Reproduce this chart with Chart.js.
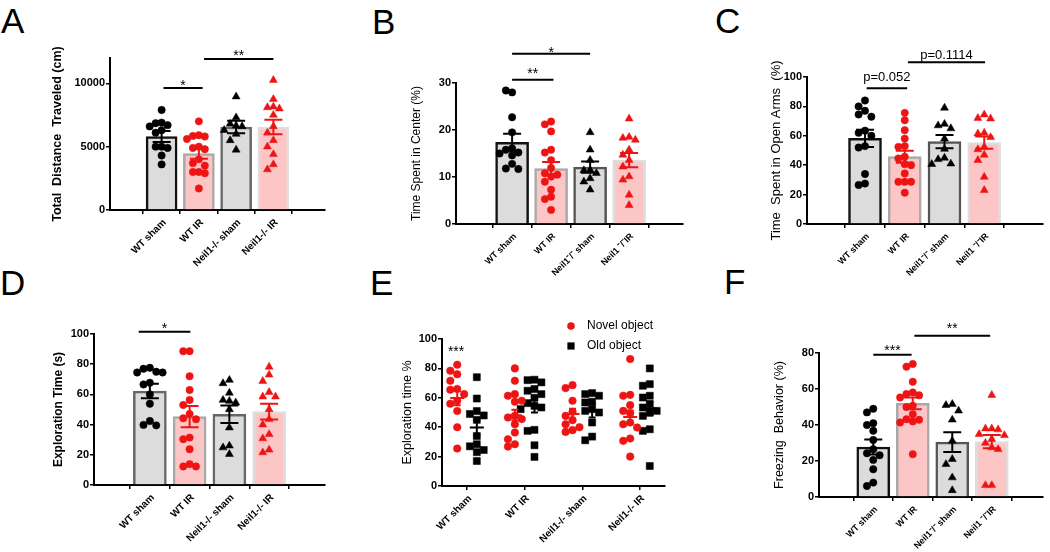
<!DOCTYPE html>
<html><head><meta charset="utf-8">
<script src="https://cdn.jsdelivr.net/npm/chart.js@4.4.0/dist/chart.umd.min.js"></script>
<style>
body{margin:0;width:1050px;height:552px;background:#fff;position:relative;overflow:hidden;font-family:"Liberation Sans",Arial,sans-serif}
canvas{position:absolute}
.lab{position:absolute;font-size:35px;line-height:36px;color:#000}
</style></head><body>
<div class="lab" style="left:1px;top:3px">A</div>
<div class="lab" style="left:372px;top:4px">B</div>
<div class="lab" style="left:715px;top:3px">C</div>
<div class="lab" style="left:0px;top:265px">D</div>
<div class="lab" style="left:370px;top:265px">E</div>
<div class="lab" style="left:724px;top:264px">F</div>
<canvas id="cA" width="350" height="276" style="left:0;top:0"></canvas>
<canvas id="cB" width="350" height="276" style="left:350px;top:0"></canvas>
<canvas id="cC" width="350" height="276" style="left:700px;top:0"></canvas>
<canvas id="cD" width="350" height="276" style="left:0;top:276px"></canvas>
<canvas id="cE" width="350" height="276" style="left:350px;top:276px"></canvas>
<canvas id="cF" width="350" height="276" style="left:700px;top:276px"></canvas>
<script>
// ---------- categories ----------
const catsDash = ['WT sham', 'WT IR', 'Neil1-/- sham', 'Neil1-/- IR'];
const catsSup = ['WT sham', 'WT IR', 'Neil1\u207B/\u207B sham', 'Neil1 \u207B/\u207BIR'];

// ---------- A: total distance traveled (cm) ----------
const meanA = [5800, 4450, 6550, 6550];
const semA = [430, 400, 500, 570];
const wtShamA = [7900, 6900, 6850, 6700, 6600, 6300, 6100, 5000, 5000, 4900, 4300, 3600];
const wtIrA = [7000, 5900, 5850, 5800, 5600, 5000, 4900, 4800, 4000, 3700, 3500, 3000, 3000, 2900, 1700];
const koShamA = [8950, 7300, 6800, 6650, 6600, 6300, 6000, 5500, 4750];
const koIrA = [10250, 8750, 8150, 8100, 8000, 7500, 6600, 6100, 5500, 5000, 4400, 3600, 3200];
const ticksA = [0, 5000, 10000];

// ---------- B: time spent in center (%) ----------
const meanB = [17.4, 11.8, 12.1, 13.6];
const semB = [1.8, 1.4, 1.2, 1.5];
const wtShamB = [28.0, 28.4, 22.7, 19.5, 16.1, 15.8, 15.2, 15.0, 14.6, 12.8, 11.8, 11.7];
const wtIrB = [21.8, 21.2, 19.7, 15.8, 15.2, 13.6, 11.9, 10.8, 10.5, 10.1, 9.0, 7.3, 5.8, 5.3, 3.0];
const koShamB = [19.5, 15.8, 13.6, 11.5, 11.4, 10.8, 9.7, 9.0, 7.3];
const koIrB = [22.4, 18.5, 18.3, 17.9, 15.8, 14.7, 13.6, 12.2, 10.1, 9.4, 6.2, 4.0];

// ---------- C: time spent in open arms (%) ----------
const meanC = [58.3, 45.8, 56.0, 55.4];
const semC = [5.9, 4.1, 4.5, 4.2];
const wtShamC = [84, 80, 77, 74.5, 73, 63.5, 62, 60, 53, 52, 34, 27.5, 26.5];
const wtIrC = [75.6, 70.6, 63.8, 58.1, 53, 52.5, 45.7, 44.6, 40.7, 40, 34.4, 28.7, 28.7, 28.7, 21.3];
const koShamC = [79, 68, 67, 65, 58, 51, 45, 44, 41, 40.7];
const koIrC = [74.4, 72, 71.7, 62, 61.5, 59, 52.5, 50.7, 47, 43.4, 32, 23];

// ---------- D: exploration time (s) ----------
const meanD = [62.2, 45.3, 46.8, 48.6];
const semD = [4.8, 7.0, 5.8, 5.2];
const wtShamD = [77.6, 77, 75, 74.5, 74.5, 67.7, 66.6, 60, 53.8, 42.4, 39.8, 39.5];
const wtIrD = [88.6, 88.6, 72, 62.9, 56.3, 53, 47, 44.2, 43.5, 31.4, 30.3, 23.7, 13.8, 12.3, 12.3];
const koShamD = [69.5, 67.3, 61, 56.3, 55.6, 54.5, 50.1, 38, 26, 24.8, 20.4];
const koIrD = [78.2, 73, 68.8, 61.5, 58.5, 58.5, 50.1, 43.5, 40, 33.6, 30.8, 23.3, 21.5];

// ---------- E: exploration time % (novel vs old object) ----------
const meanNovelE = [59.8, 48.2, 48.9, 47.0];
const semNovelE = [4.9, 3.7, 3.6, 4.3];
const meanOldE = [39.8, 55.0, 51.1, 52.7];
const semOldE = [5.2, 5.0, 4.5, 4.8];
const novelE = [
  [82.5, 78.4, 76, 71.6, 66, 65.5, 62.5, 58, 56, 51, 40, 25.5],
  [80, 71.6, 62.5, 61.4, 58, 57.3, 47.7, 46.6, 45.5, 42, 36.4, 31.8, 28.4, 26.8],
  [68.6, 66.6, 58, 50.5, 47.7, 44.8, 42, 40, 38, 36.8],
  [86.4, 62, 61.4, 55, 51.1, 49.5, 43.2, 42, 39.8, 32.3, 30.7, 20]
];
const oldE = [
  [74, 59.5, 51, 49, 48, 45, 34, 28.4, 27, 24.5, 23, 17],
  [72.3, 72, 70.5, 66, 64.8, 62.5, 60, 56.4, 54.5, 53.4, 52.3, 38.2, 37.5, 27.7, 19.8],
  [63.2, 62.5, 61.4, 57.3, 56.8, 52.3, 51.1, 50, 43.2, 33.6, 31.1],
  [80, 69.3, 68.2, 61.4, 60.2, 55.7, 53.4, 51.1, 50, 47.7, 38.6, 37.5, 13.6]
];
const legendE = ['Novel object', 'Old object'];

// ---------- F: freezing behavior (%) ----------
const meanF = [27.8, 52.0, 30.5, 30.8];
const semF = [4.2, 3.3, 5.5, 3.7];
const wtShamF = [49, 47, 41, 40, 36.8, 31.7, 26.5, 24.3, 23.2, 20.6, 15.4, 8, 6.1];
const wtIrF = [73.9, 72.4, 64, 58.1, 57.2, 56.5, 55.3, 50.7, 50, 46, 43.2, 42.9, 42, 41.4, 23.8];
const koShamF = [51.6, 51, 47.9, 42.9, 31.2, 21, 18.2, 10.8, 3.7];
const koIrF = [56.6, 38, 38, 37.5, 34.9, 34.3, 32.1, 30, 27.5, 26.5, 6.5, 6.5];

// ---------- styling ----------
const FONT = '"Liberation Sans", Arial, sans-serif';
const GRAY = '#dcdcdc', PINK = '#fdc6c6', RED = '#ee1414', BLACK = '#000';

// deterministic beeswarm placement (no randomness)
function swarm(values, range, centre, step) {
  const placed = [];
  const thr = range * 0.05;
  const cand = [0, -1, 1, -2, 2, -3, 3];
  return values.map(v => {
    let best = cand[cand.length - 1];
    for (const c of cand) {
      if (placed.every(p => p.c !== c || Math.abs(p.v - v) >= thr)) { best = c; break; }
    }
    placed.push({ v, c: best });
    return { x: centre + best * step, y: v };
  });
}

function errPlugin(items) {
  return { id: 'errbars', afterDatasetsDraw(chart) {
    const { ctx, scales: { x, y } } = chart;
    items.forEach(it => {
      const px = x.getPixelForValue(it.x);
      const top = y.getPixelForValue(it.mean + it.sem), bot = y.getPixelForValue(it.mean - it.sem);
      const mid = y.getPixelForValue(it.mean);
      ctx.save(); ctx.strokeStyle = it.color; ctx.lineWidth = 2;
      ctx.beginPath();
      ctx.moveTo(px, top); ctx.lineTo(px, bot);
      ctx.moveTo(px - it.cap, top); ctx.lineTo(px + it.cap, top);
      ctx.moveTo(px - it.cap, bot); ctx.lineTo(px + it.cap, bot);
      if (it.meanHalf) { ctx.moveTo(px - it.meanHalf, mid); ctx.lineTo(px + it.meanHalf, mid); }
      ctx.stroke(); ctx.restore();
    });
  }};
}

function sigPlugin(list) {
  return { id: 'sig', afterDraw(chart) {
    const { ctx, scales: { x, y } } = chart;
    list.forEach(s => {
      const y0 = y.getPixelForValue(s.y);
      let cx = x.getPixelForValue(s.x1);
      ctx.save();
      if (s.x2 !== undefined) {
        const x2 = x.getPixelForValue(s.x2);
        ctx.strokeStyle = '#000'; ctx.lineWidth = 2;
        ctx.beginPath(); ctx.moveTo(cx, y0); ctx.lineTo(x2, y0); ctx.stroke();
        cx = (cx + x2) / 2;
      }
      const star = /^\*+$/.test(s.t);
      ctx.fillStyle = '#000';
      ctx.font = star ? ('14px ' + FONT) : ('13px ' + FONT);
      ctx.textAlign = 'center'; ctx.textBaseline = 'middle';
      ctx.fillText(s.t, cx, y0 - s.dy + (star ? 3.5 : 0));
      ctx.restore();
    });
  }};
}

// rotated category labels, anchored at each x tick
function xLabelPlugin(cats, size) {
  return { id: 'xlab', afterDraw(chart) {
    const { ctx, scales: { x } } = chart;
    ctx.save();
    ctx.fillStyle = '#000';
    ctx.font = 'bold ' + size + 'px ' + FONT;
    ctx.textAlign = 'right'; ctx.textBaseline = 'middle';
    cats.forEach((c, i) => {
      ctx.save();
      ctx.translate(x.getPixelForValue(i) + 3, x.top + 11);
      ctx.rotate(-Math.PI / 4);
      ctx.fillText(c, 0, 0);
      ctx.restore();
    });
    ctx.restore();
  }};
}

function legendPlugin(lx, ly) {
  return { id: 'leg', afterDraw(chart) {
    const ctx = chart.ctx;
    ctx.save();
    ctx.fillStyle = RED; ctx.beginPath(); ctx.arc(lx, ly, 3.8, 0, Math.PI * 2); ctx.fill();
    ctx.fillStyle = BLACK; ctx.fillRect(lx - 3.6, ly + 20 - 3.6, 7.2, 7.2);
    ctx.font = '12px ' + FONT; ctx.textAlign = 'left'; ctx.textBaseline = 'middle';
    ctx.fillText(legendE[0], lx + 16, ly);
    ctx.fillText(legendE[1], lx + 16, ly + 20);
    ctx.restore();
  }};
}

function options(o) {
  const padLeft = o.titleX - o.titleSize * 0.6;
  return {
    responsive: false, animation: false, events: [],
    layout: { padding: { left: padLeft, top: o.area.t, right: 350 - o.area.r, bottom: 0 } },
    plugins: { legend: { display: false }, tooltip: { enabled: false } },
    scales: {
      x: {
        type: 'linear', min: o.xMin, max: o.xMax,
        afterBuildTicks: s => { s.ticks = o.cats.map((c, i) => ({ value: i })); },
        afterFit: s => { s.height = 276 - o.area.b; },
        ticks: { display: false, autoSkip: false },
        grid: { drawOnChartArea: false, drawTicks: true, tickLength: 4, color: '#000', lineWidth: 1.5 },
        border: { color: '#000', width: 2 }
      },
      y: {
        type: 'linear', min: 0, max: o.yMax,
        afterFit: s => { s.width = o.area.l - padLeft; },
        afterBuildTicks: o.yTicks ? (s => { s.ticks = o.yTicks.map(v => ({ value: v })); }) : undefined,
        ticks: { stepSize: o.yStep, includeBounds: false, padding: 1, color: '#000',
          font: { family: FONT, size: 11, weight: 'bold' }, callback: v => String(v) },
        title: { display: true, text: o.title, color: '#000', padding: { top: 0, bottom: 0 },
          font: { family: FONT, size: o.titleSize, weight: o.titleBold ? 'bold' : 'normal' } },
        grid: { drawOnChartArea: false, tickLength: 4, color: '#000', lineWidth: 1.5 },
        border: { color: '#000', width: 2 }
      }
    }
  };
}

function barPanel(o) {
  const fills = [GRAY, PINK, GRAY, PINK];
  const datasets = [{
    type: 'bar', data: o.mean.map((m, i) => ({ x: i, y: m })),
    backgroundColor: fills, borderColor: o.borders, borderWidth: 2.5,
    borderSkipped: 'bottom', barThickness: o.barW, order: 5
  }];
  o.groups.forEach((g, i) => {
    const col = i % 2 ? RED : BLACK;
    datasets.push({
      type: 'scatter', data: swarm(g, o.yMax, i, 0.16),
      pointStyle: i < 2 ? 'circle' : 'triangle', pointRadius: i < 2 ? 3.7 : 4.6,
      backgroundColor: col, borderColor: col, borderWidth: 0.5, order: 1, clip: false
    });
  });
  const err = o.mean.map((m, i) => ({ x: i, mean: m, sem: o.sem[i], color: i % 2 ? RED : BLACK, cap: 9 }));
  new Chart(document.getElementById(o.id), {
    type: 'bar', data: { datasets }, options: options(o),
    plugins: [errPlugin(err), sigPlugin(o.sig), xLabelPlugin(o.cats, o.xTickSize)]
  });
}

barPanel({ id: 'cA', cats: catsDash, groups: [wtShamA, wtIrA, koShamA, koIrA], mean: meanA, sem: semA,
  yMax: 12000, yStep: 5000, yTicks: ticksA, xMin: -0.664, xMax: 3.664, area: { l: 110, r: 325, t: 58, b: 210 },
  title: 'Total  Distance  Traveled (cm)', titleBold: true, titleSize: 12.5, titleX: 58, xTickSize: 10,
  borders: ['#111', '#a8a8a8', '#666', '#dedede'], barW: 31,
  sig: [{ x1: 0.05, x2: 1.1, y: 9640, t: '*', dy: 5 }, { x1: 1.14, x2: 3.0, y: 11920, t: '**', dy: 6 }] });

barPanel({ id: 'cB', cats: catsSup, groups: [wtShamB, wtIrB, koShamB, koIrB], mean: meanB, sem: semB,
  yMax: 30, yStep: 10, xMin: -0.711, xMax: 3.654, area: { l: 106, r: 333, t: 83, b: 224 },
  title: 'Time Spent in Center (%)', titleBold: false, titleSize: 12, titleX: 67, xTickSize: 9,
  borders: ['#111', '#a8a8a8', '#555', '#dedede'], barW: 33,
  sig: [{ x1: 0, x2: 1.06, y: 30.7, t: '**', dy: 9 }, { x1: 0, x2: 2.0, y: 36.2, t: '*', dy: 4 }] });

barPanel({ id: 'cC', cats: catsSup, groups: [wtShamC, wtIrC, koShamC, koIrC], mean: meanC, sem: semC,
  yMax: 100, yStep: 20, xMin: -0.717, xMax: 3.736, area: { l: 107, r: 343, t: 77, b: 224 },
  title: 'Time  Spent in Open Arms  (%)', titleBold: false, titleSize: 13, titleX: 76, xTickSize: 9,
  borders: ['#111', '#a8a8a8', '#555', '#dedede'], barW: 33,
  sig: [{ x1: 0.04, x2: 1.06, y: 92.3, t: 'p=0.052', dy: 11 }, { x1: 1.08, x2: 3.02, y: 110, t: 'p=0.1114', dy: 7 }] });

barPanel({ id: 'cD', cats: catsDash, groups: [wtShamD, wtIrD, koShamD, koIrD], mean: meanD, sem: semD,
  yMax: 100, yStep: 20, xMin: -0.679, xMax: 3.679, area: { l: 94, r: 325, t: 58, b: 209 },
  title: 'Exploration Time (s)', titleBold: true, titleSize: 12, titleX: 59, xTickSize: 10,
  borders: ['#666', '#a8a8a8', '#666', '#dedede'], barW: 33,
  sig: [{ x1: -0.28, x2: 1.02, y: 101.5, t: '*', dy: 6 }] });

barPanel({ id: 'cF', cats: catsSup, groups: [wtShamF, wtIrF, koShamF, koIrF], mean: meanF, sem: semF,
  yMax: 80, yStep: 20, xMin: -0.665, xMax: 3.588, area: { l: 119, r: 343, t: 77, b: 221 },
  title: 'Freezing  Behavior (%)', titleBold: false, titleSize: 12.5, titleX: 80, xTickSize: 9,
  borders: ['#111', '#a8a8a8', '#555', '#dedede'], barW: 33,
  sig: [{ x1: 0, x2: 0.97, y: 79, t: '***', dy: 7 }, { x1: 1.04, x2: 2.96, y: 89.6, t: '**', dy: 10 }] });

// E panel: scatter with mean +/- SEM, no bars
(function () {
  const off = 0.17;
  const datasets = [];
  const err = [];
  for (let i = 0; i < 4; i++) {
    datasets.push({ type: 'scatter', data: swarm(novelE[i], 100, i - off, 0.12), pointStyle: 'circle',
      pointRadius: 3.8, backgroundColor: RED, borderColor: RED, borderWidth: 0.5, clip: false });
    datasets.push({ type: 'scatter', data: swarm(oldE[i], 100, i + off, 0.12), pointStyle: 'rect',
      pointRadius: 5, backgroundColor: BLACK, borderColor: BLACK, borderWidth: 0.5, clip: false });
    err.push({ x: i - off, mean: meanNovelE[i], sem: semNovelE[i], color: RED, cap: 3.5, meanHalf: 7 });
    err.push({ x: i + off, mean: meanOldE[i], sem: semOldE[i], color: BLACK, cap: 3.5, meanHalf: 7 });
  }
  const o = { cats: catsDash, yMax: 100, yStep: 20, xMin: -0.434, xMax: 3.434,
    area: { l: 92, r: 315, t: 63, b: 210 }, title: 'Exploration time %', titleBold: false,
    titleSize: 12.5, titleX: 58, xTickSize: 10 };
  new Chart(document.getElementById('cE'), {
    type: 'scatter', data: { datasets }, options: options(o),
    plugins: [errPlugin(err), sigPlugin([{ x1: -0.19, y: 93.4, t: '***', dy: 0 }]), legendPlugin(221, 50),
      xLabelPlugin(o.cats, o.xTickSize)]
  });
})();
</script>
</body></html>
